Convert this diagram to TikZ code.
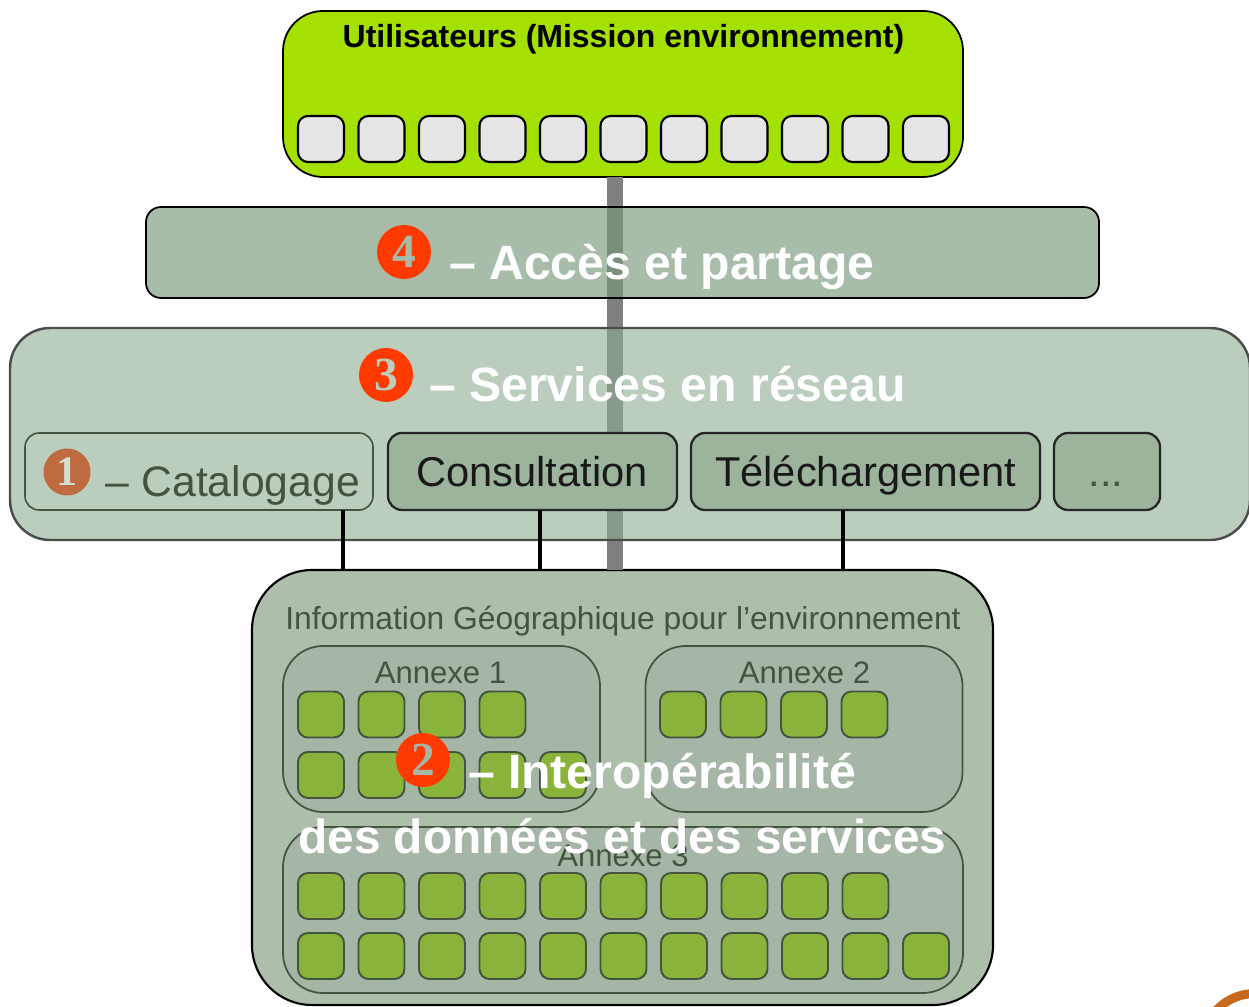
\documentclass[tikz,border=0pt]{standalone}
\usepackage{xcolor}
\usepackage{fontspec}
\setmainfont{Liberation Sans}
\newfontfamily\digitfont{Liberation Serif}
\definecolor{usergreen}{HTML}{A4E000}
\definecolor{leafgreen}{HTML}{8AB33C}
\definecolor{darkgreen}{HTML}{43553F}
\definecolor{badgered}{HTML}{FF3A00}
\definecolor{badgebrown}{HTML}{C06A40}
\definecolor{infofill}{HTML}{ADBFAB}
\definecolor{annexfill}{HTML}{A6B6A6}
\definecolor{buttonfill}{HTML}{9BB49B}
\definecolor{accessfill}{HTML}{779879}
\definecolor{servicefill}{HTML}{8EAC8F}
\definecolor{logoorange}{HTML}{C86A1E}
\tikzstyle{layer}=[rectangle,rounded corners=0.8cm,draw=black,line width=1pt,inner sep=0pt,outer sep=0pt]
\tikzstyle{annex}=[layer,draw=darkgreen,fill=annexfill,minimum height=3.32cm]
\tikzstyle{button}=[rectangle,rounded corners=0.28cm,draw=black!85,line width=1.3pt,fill=buttonfill,minimum height=1.54cm,inner sep=0pt,outer sep=0pt]
\tikzstyle{usersquare}=[rectangle,rounded corners=0.2cm,draw=black,line width=1.2pt,fill=gray!20,minimum size=0.92cm,inner sep=0pt]
\tikzstyle{datasquare}=[rectangle,rounded corners=0.2cm,draw=darkgreen,line width=1.1pt,fill=leafgreen,minimum size=0.92cm,inner sep=0pt]
\tikzstyle{title}=[anchor=base,inner sep=0pt,text=white,font=\bfseries\fontsize{27.4}{30}\selectfont]
\tikzstyle{buttontext}=[anchor=base,inner sep=0pt,text=black!90,font=\fontsize{23.7}{26}\selectfont]
\tikzstyle{small}=[anchor=base,inner sep=0pt,text=darkgreen,font=\fontsize{17.7}{20}\selectfont]
\tikzstyle{badge}=[circle,fill=badgered,minimum size=1.08cm,inner sep=0pt,font=\digitfont\bfseries\fontsize{27}{30}\selectfont]
\tikzstyle{link}=[black,line width=2pt]
\tikzstyle{bar}=[gray,line width=0.32cm]

\begin{document}
\begin{tikzpicture}
        \useasboundingbox (0,0) rectangle (24.98,20.12);

        % boxes under the connectors
        \node at (12.46,18.24) [layer,fill=usergreen,minimum width=13.6cm,minimum height=3.32cm] (users) {};
        \node at (12.45,4.37) [layer,rounded corners=1.2cm,line width=1.2pt,fill=infofill,minimum width=14.82cm,minimum height=8.7cm] (info) {};
        \coordinate (barstart) at ([xshift=-0.16cm]users.south);

        \draw [bar] (barstart) -- (barstart |- info.north);

        % translucent layers over the bar
        \node at (12.45,15.07) [layer,rounded corners=0.3cm,fill=accessfill,fill opacity=0.64,minimum width=19.06cm,minimum height=1.82cm] (access) {};
        \node at (12.6,11.44) [layer,draw=black!70,line width=1.4pt,fill=servicefill,fill opacity=0.6,minimum width=24.8cm,minimum height=4.24cm] (services) {};

        \node at (3.98,10.69) [button,draw=darkgreen,line width=0.9pt,fill=none,minimum width=6.96cm] (cat) {};
        \node at (10.65,10.69) [button,minimum width=5.78cm] (cons) {};
        \node at (17.31,10.69) [button,minimum width=6.98cm] (tele) {};
        \node at (22.14,10.69) [button,minimum width=2.12cm] (more) {};

        \coordinate (catlink) at ([xshift=2.88cm]cat.south);
        \coordinate (conslink) at ([xshift=0.15cm]cons.south);
        \coordinate (telelink) at ([xshift=-0.45cm]tele.south);
        \draw [link] (catlink) -- (catlink |- info.north);
        \draw [link] (conslink) -- (conslink |- info.north);
        \draw [link] (telelink) -- (telelink |- info.north);

        \node at (8.83,5.54) [annex,minimum width=6.34cm] (annex1) {};
        \node at (16.08,5.54) [annex,minimum width=6.34cm] (annex2) {};
        \node at (12.46,1.92) [annex,minimum width=13.6cm] (annex3) {};

        % squares
        \foreach \i in {0,...,10}
          \node at (6.42+1.21*\i,17.34) [usersquare] (u\i) {};
        \foreach \i in {0,...,3}
          \node at (6.42+1.21*\i,5.83) [datasquare] (a\i) {};
        \foreach \i in {0,...,4}
          \node at (6.42+1.21*\i,4.62) [datasquare] (b\i) {};
        \foreach \i in {0,...,3}
          \node at (13.66+1.21*\i,5.83) [datasquare] (c\i) {};
        \foreach \i in {0,...,9}
          \node at (6.42+1.21*\i,2.2) [datasquare] (d\i) {};
        \foreach \i in {0,...,10}
          \node at (6.42+1.21*\i,1.0) [datasquare] (e\i) {};

        % texts
        \node at (12.47,19.16) [title,text=black,font=\bfseries\fontsize{18.2}{20}\selectfont] (userstext) {Utilisateurs (Mission environnement)};
        \node at (12.46,7.52) [small,font=\fontsize{18.1}{20}\selectfont] (infotext) {Information Géographique pour l’environnement};
        \node at (8.81,6.44) [small] (annex1text) {Annexe 1};
        \node at (16.09,6.44) [small] (annex2text) {Annexe 2};
        \node at (12.46,2.8) [small] (annex3text) {Annexe 3};
        \node at (4.66,10.18) [buttontext,text=darkgreen,font=\fontsize{24.3}{26}\selectfont] (cattext) {– Catalogage};
        \node at (10.64,10.38) [buttontext] (constext) {Consultation};
        \node at (17.31,10.38) [buttontext] (teletext) {Téléchargement};
        \node at (22.12,10.38) [buttontext,text=darkgreen] (moretext) {...};

        \node at (13.24,14.52) [title] (accesstext) {– Accès et partage};
        \node at (13.35,12.08) [title] (servicestext) {– Services en réseau};
        \node at (13.24,4.36) [title] (interotext) {– Interopérabilité};
        \node at (12.45,3.06) [title,font=\bfseries\fontsize{27.2}{30}\selectfont] (datatext) {des données et des services};

        % numbered badges
        \node at (8.08,15.08) [badge,text=accessfill!65!white] (four) {4};
        \node at (7.72,12.62) [badge,text=servicefill!60!white] (three) {3};
        \node at (8.46,4.92) [badge,text=annexfill] (two) {2};
        \node at (1.34,10.68) [badge,fill=badgebrown,minimum size=0.94cm,font=\digitfont\bfseries\fontsize{24}{26}\selectfont,text=servicefill!40!white] (one) {1};

        % piece of a logo in the corner
        \draw [logoorange,line width=0.18cm] (24.288,-0.129) arc (140:80:1.06);
      \end{tikzpicture}
\end{document}
